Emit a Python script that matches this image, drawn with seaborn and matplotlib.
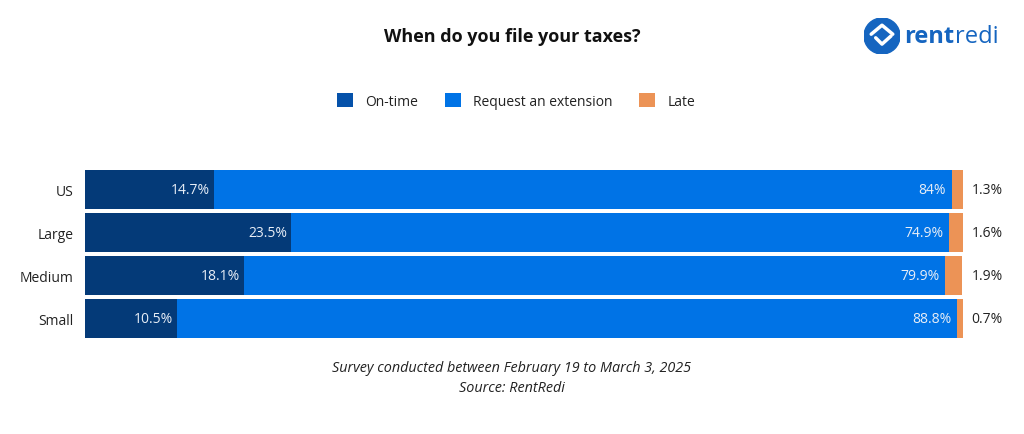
import matplotlib
matplotlib.use("Agg")
import matplotlib.pyplot as plt
import seaborn as sns
import pandas as pd
import numpy as np
from matplotlib.patches import Patch, Circle

categories = ["US", "Large", "Medium", "Small"]
on_time = [14.7, 23.5, 18.1, 10.5]
extension = [84.0, 74.9, 79.9, 88.8]
late = [1.3, 1.6, 1.9, 0.7]
series_names = ["On-time", "Request an extension", "Late"]

sns.set_theme(style="white")
plt.rcParams["font.family"] = ["Open Sans", "DejaVu Sans"]

c_on = "#043a78"
c_on_leg = "#0552aa"
c_ext = "#0073e6"
c_late = "#ec9356"

df = pd.DataFrame({"cat": categories, "on": on_time, "ext": extension, "late": late})
df["cum_ext"] = df["on"] + df["ext"]
df["cum_all"] = df["cum_ext"] + df["late"]

fig = plt.figure(figsize=(10.24, 4.35), dpi=100)
ax = fig.add_axes([85/1024, 1 - 341/435, (963-85)/1024, (341-169)/435])

sns.barplot(data=df, y="cat", x="cum_all", color=c_late, orient="h", ax=ax,
            width=0.92, saturation=1, edgecolor="none")
sns.barplot(data=df, y="cat", x="cum_ext", color=c_ext, orient="h", ax=ax,
            width=0.92, saturation=1, edgecolor="none")
sns.barplot(data=df, y="cat", x="on", color=c_on, orient="h", ax=ax,
            width=0.92, saturation=1, edgecolor="none")

ax.set_xlim(0, 100)
ax.set_ylim(3.5, -0.5)
ax.set_xlabel("")
ax.set_ylabel("")
ax.set_xticks([])
for s in ax.spines.values():
    s.set_visible(False)
ax.tick_params(axis="y", length=0, pad=8, labelsize=10, labelcolor="#222222")

def fmt(v):
    return f"{v:g}%"

for i, row in df.iterrows():
    ax.annotate(fmt(row["on"]), (row["on"], i), xytext=(-3, 0), textcoords="offset points",
                ha="right", va="center", color="#e8eef7", fontsize=10)
    ax.annotate(fmt(row["ext"]), (row["cum_ext"], i), xytext=(-4, 0), textcoords="offset points",
                ha="right", va="center", color="#e8eef7", fontsize=10)
    ax.annotate(fmt(row["late"]), (100, i), xytext=(6, 0), textcoords="offset points",
                ha="left", va="center", color="#222222", fontsize=10)

fig.text(512/1024, 1 - 37/435, "When do you file your taxes?", ha="center", va="center",
         fontsize=13, fontweight="bold", color="#111111")

handles = [Patch(facecolor=c_on_leg, edgecolor="none"),
           Patch(facecolor=c_ext, edgecolor="none"),
           Patch(facecolor=c_late, edgecolor="none")]
fig.legend(handles, series_names, loc="center", bbox_to_anchor=(516/1024, 1 - 102/435),
           ncol=3, frameon=False, handlelength=1.15, handleheight=1.15, handletextpad=0.9,
           columnspacing=1.9, fontsize=10, labelcolor="#222222")

fig.text(511/1024, 1 - 369/435, "Survey conducted between February 19 to March 3, 2025",
         ha="center", va="center", fontsize=10.4, style="italic", color="#222222")
fig.text(512/1024, 1 - 388/435, "Source: RentRedi",
         ha="center", va="center", fontsize=10.4, style="italic", color="#222222")

# logo
lax = fig.add_axes([864/1024, 1 - 55/435, 36/1024, 36/435])
lax.set_xlim(-1, 1); lax.set_ylim(-1, 1); lax.set_aspect("equal"); lax.axis("off")
lax.add_patch(Circle((0, 0), 1, color="#1565c0"))
lax.plot([-0.6, 0, 0.6], [0.1, 0.6, 0.1], color="white", lw=2.5, solid_capstyle="round")
lax.plot([-0.35, 0, 0.5], [-0.1, -0.45, 0.0], color="white", lw=2.5, solid_capstyle="round")
t1 = fig.text(904/1024, 1 - 37/435, "rent", ha="left", va="center", fontsize=17,
              fontweight="bold", color="#1565c0")
fig.canvas.draw()
bb = t1.get_window_extent(renderer=fig.canvas.get_renderer())
fig.text(bb.x1 / fig.bbox.width + 1/1024, 1 - 37/435, "redi", ha="left", va="center",
         fontsize=17, color="#1565c0")

fig.savefig("out.png", dpi=100)
